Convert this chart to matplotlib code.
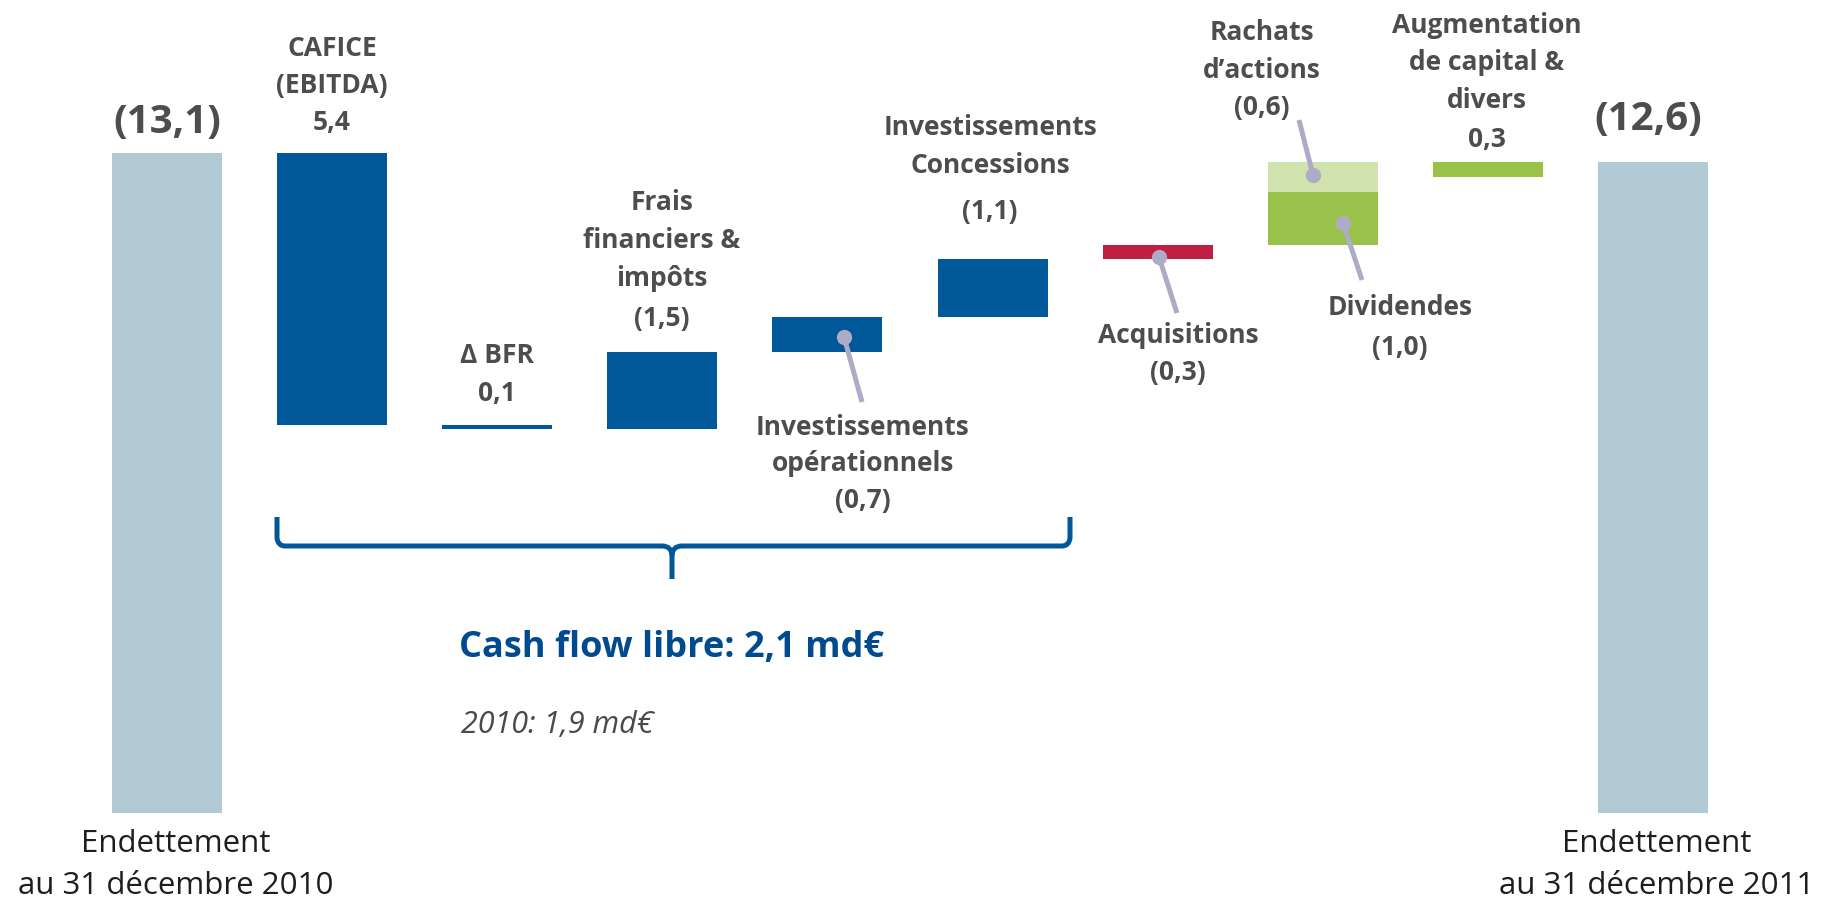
import numpy as np
import matplotlib
matplotlib.use("Agg")
import matplotlib.pyplot as plt
from matplotlib.path import Path
from matplotlib.patches import PathPatch

plt.rcParams['font.family'] = ['Open Sans', 'DejaVu Sans']

# ---------------- data ----------------
start_label = "(13,1)"
end_label = "(12,6)"
start_debt = 13.1          # bar height as drawn
end_debt = 12.92           # bar height as drawn in the picture
step_names = ["CAFICE\n(EBITDA)", "Δ BFR", "Frais\nfinanciers &\nimpôts",
              "Investissements\nopérationnels", "Investissements\nConcessions",
              "Acquisitions", "Dividendes", "Rachats\nd’actions",
              "Augmentation\nde capital &\ndivers"]
step_values = [5.4, 0.1, -1.5, -0.7, -1.1, -0.3, -1.0, -0.6, 0.3]      # printed cash impact
debt_changes = [-5.4, -0.08, 1.53, 0.69, 1.15, 0.28, 1.05, 0.6, -0.3]  # bar heights
step_columns = [1, 2, 3, 4, 5, 6, 7, 7, 8]
bottom_labels = ["Endettement\nau 31 décembre 2010", "Endettement\nau 31 décembre 2011"]
cash_flow_text = "Cash flow libre: 2,1 md€"
prev_year_text = "2010: 1,9 md€"

# ---------------- style ----------------
C_DEBT = '#B2CAD4'
C_BLUE = '#00579A'
C_RED = '#C01F43'
C_LGREEN = '#D0E3AE'
C_GREEN = '#99C24A'
C_LEAD = '#ADABC6'
C_TEXT = '#4D4D4D'
step_colors = [C_BLUE] * 5 + [C_RED, C_GREEN, C_LGREEN, C_GREEN]

W, H = 1823, 898
fig = plt.figure(figsize=(W / 100, H / 100), dpi=100)
ax = fig.add_axes([0, 0, 1, 1])
X0, DX = 167.0, 165.1        # pixel of column 0 centre, column spacing
Y0, DY = 813.0, 50.37        # pixel of value 0, pixels per unit
ax.set_xlim(-X0 / DX, (W - X0) / DX)
ax.set_ylim(-(H - Y0) / DY, Y0 / DY)
ax.axis('off')

def px(p):
    return (p - X0) / DX

def py(p):
    return (Y0 - p) / DY

def fmt(v):
    s = f"{abs(v):.1f}".replace('.', ',')
    return s if v >= 0 else f"({s})"

BW = 110 / DX
# start / end bars
ax.bar([0, 9], [start_debt, end_debt], width=BW, color=C_DEBT)

# steps
level = start_debt
for col, h, c in zip(step_columns, debt_changes, step_colors):
    b = min(level, level + h)
    ax.bar(col, abs(h), bottom=b, width=BW, color=c)
    level += h

def lines_at(xc, baselines, lines, size=19, color=C_TEXT, weight='bold', **kw):
    for bl, t in zip(baselines, lines):
        ax.text(px(xc), py(bl), t, ha='center', va='baseline', fontsize=size,
                color=color, fontweight=weight, **kw)

# step labels: (centre px, baselines px)
label_layout = [
    (332, [56, 93, 130]),
    (497, [363, 401]),
    (662, [210, 248, 286, 326]),
    (863, [435, 471, 508]),
    (990, [135, 173, 219]),
    (1178, [343, 380]),
    (1400, [315, 355]),
    (1262, [40, 78, 115]),
    (1487, [33, 70, 108, 147]),
]
for name, v, (xc, bls) in zip(step_names, step_values, label_layout):
    lines_at(xc, bls, name.split("\n") + [fmt(v)])

lines_at(167, [133], [start_label], size=29)
lines_at(1648, [130], [end_label], size=29)

# bottom labels
for xc, txt in zip([176, 1657], bottom_labels):
    lines_at(xc, [852, 894], txt.split("\n"), size=22.5, color='#1E1E1E', weight='normal')

# leader lines (dot on bar -> label)
leaders = [((844, 337), (862, 402)),
           ((1159, 257), (1177, 313)),
           ((1313, 175), (1299, 120)),
           ((1343, 223), (1362, 280))]
for (x1, y1), (x2, y2) in leaders:
    ax.plot([px(x1), px(x2)], [py(y1), py(y2)], color=C_LEAD, lw=3.6,
            solid_capstyle='butt', zorder=3)
    ax.plot(px(x1), py(y1), 'o', color=C_LEAD, ms=11, mec='none', zorder=4)

# brace
xl, xr, xc = 277, 1070, 672
yt, yh, ytip = 517, 546, 579
r = 8
verts_l = [(xl, yt), (xl, yh - r), (xl + 1, yh), (xl + r, yh),
           (xc - 10, yh), (xc, yh), (xc, yh + 10), (xc, ytip)]
codes_l = [Path.MOVETO, Path.LINETO, Path.CURVE3, Path.CURVE3,
           Path.LINETO, Path.CURVE3, Path.CURVE3, Path.LINETO]
verts_r = [(xr, yt), (xr, yh - r), (xr - 1, yh), (xr - r, yh),
           (xc + 10, yh), (xc, yh), (xc, yh + 10)]
codes_r = [Path.MOVETO, Path.LINETO, Path.CURVE3, Path.CURVE3,
           Path.LINETO, Path.CURVE3, Path.CURVE3]
for vv, cc in [(verts_l, codes_l), (verts_r, codes_r)]:
    path = Path([(px(a), py(b)) for a, b in vv], cc)
    ax.add_patch(PathPatch(path, fill=False, edgecolor=C_BLUE, lw=3.6,
                           capstyle='butt', joinstyle='round'))

ax.text(px(459), py(657), cash_flow_text, ha='left', va='baseline', fontsize=26,
        fontweight='bold', color='#004A8F')
ax.text(px(461), py(733), prev_year_text, ha='left', va='baseline', fontsize=22,
        fontweight='normal', fontstyle='italic', color='#4A4A4A')

fig.savefig('out.png', dpi=100)
